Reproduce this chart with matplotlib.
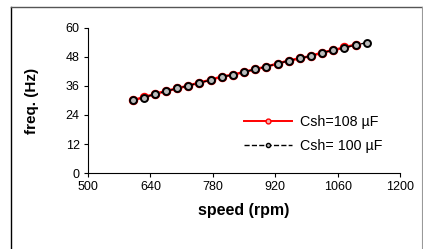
import matplotlib
matplotlib.use("Agg")
import matplotlib.pyplot as plt
from matplotlib.lines import Line2D

plt.rcParams['font.family'] = ['Liberation Sans', 'DejaVu Sans']

speed_108 = [600, 625, 650, 675, 700, 725, 750, 775, 800, 825, 850,
             875, 900, 925, 950, 975, 1000, 1025, 1050, 1075, 1100]
freq_108 = [30.1, 31.3, 32.7, 33.9, 35.0, 36.1, 37.4, 38.5, 39.9, 40.6, 41.8,
            42.9, 44.0, 45.2, 46.5, 47.4, 48.4, 49.8, 50.8, 51.9, 53.1]
speed_100 = speed_108 + [1125]
freq_100 = [30.0, 31.2, 32.6, 33.8, 35.0, 36.1, 37.3, 38.4, 39.7, 40.6, 41.8,
            42.9, 44.0, 45.2, 46.4, 47.4, 48.4, 49.7, 50.8, 51.8, 52.9, 53.9]

fig = plt.figure(figsize=(4.23, 2.49), dpi=100)
ax = fig.add_axes([0.208, 0.305, 0.738, 0.583])

# outer frame of the figure
fig.add_artist(Line2D([0.026, 0.026], [0, 0.972], color='black', lw=1, transform=fig.transFigure))
fig.add_artist(Line2D([0.026, 0.997], [0.972, 0.972], color='#555555', lw=1, transform=fig.transFigure))
fig.add_artist(Line2D([0.997, 0.997], [0, 0.972], color='#999999', lw=0.8, transform=fig.transFigure))

ax.plot(speed_108, freq_108, color='red', lw=1.8, marker='o', ms=5.5,
        mfc='#f0a0a0', mec='red', mew=1.3, label='Csh=108 µF')
ax.plot(speed_100, freq_100, color='black', lw=1, ls='--', marker='o', ms=5,
        mfc='#bbbbbb', mec='black', mew=1.4, label='Csh= 100 µF')

ax.set_xlim(500, 1200)
ax.set_ylim(0, 60)
ax.set_xticks([500, 640, 780, 920, 1060, 1200])
ax.set_yticks([0, 12, 24, 36, 48, 60])
ax.tick_params(labelsize=9, length=3, width=0.8, pad=3)
for s in ['top', 'right']:
    ax.spines[s].set_visible(False)
ax.set_xlabel('speed (rpm)', fontsize=11.5, fontweight='bold', labelpad=7)
ax.set_ylabel('freq. (Hz)', fontsize=11, fontweight='bold', labelpad=19)

h1 = Line2D([], [], color='red', lw=1.4, marker='o', ms=3.5, mfc='#f4b0b0', mec='red')
h2 = Line2D([], [], color='black', lw=1, ls='--', marker='o', ms=3, mfc='#bbbbbb', mec='black')
ax.legend([h1, h2], ['Csh=108 µF', 'Csh= 100 µF'], loc='lower right',
          bbox_to_anchor=(0.985, 0.05), frameon=False, fontsize=10.3,
          handlelength=3.3, labelspacing=0.7, handletextpad=0.6)

fig.savefig('out.png', dpi=100)
